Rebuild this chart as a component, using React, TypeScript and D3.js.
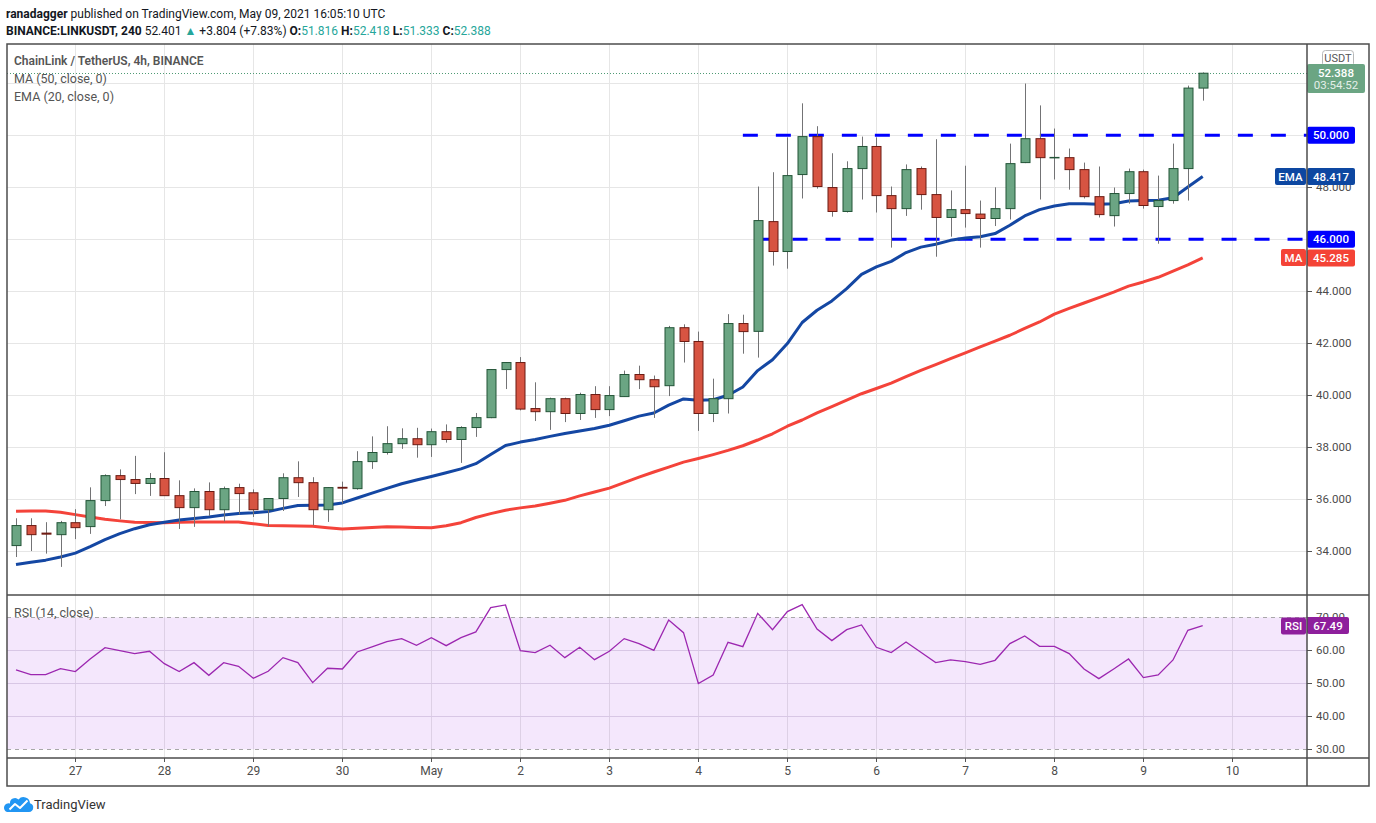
import * as d3 from "d3";

// LINKUSDT 4h, BINANCE — candles from Apr 26 08:00 UTC to May 9 16:00 UTC
const FIRST_BAR = Date.UTC(2021, 3, 26, 8);
const BAR_MS = 4 * 3600 * 1000;

const opens = [
  34.22, 34.99, 34.7, 34.64, 35.1, 34.95, 35.95, 36.91, 36.76, 36.61,
  36.8, 36.14, 35.68, 36.3, 35.6, 36.45, 36.25, 35.6, 36.03, 36.83,
  36.64, 35.6, 36.46, 36.41, 37.45, 37.8, 38.14, 38.33, 38.1, 38.6,
  38.3, 38.76, 39.14, 40.99, 41.26, 39.49, 39.37, 39.87, 39.3, 40.03,
  39.45, 39.95, 40.8, 40.6, 40.37, 42.6, 42.07, 39.3, 39.87, 42.76,
  42.46, 46.68, 45.53, 48.49, 49.95, 47.99, 47.07, 48.72, 49.57, 47.68,
  47.18, 48.72, 47.72, 46.84, 47.14, 46.97, 46.8, 47.18, 48.95, 49.87,
  49.14, 49.14, 48.68, 47.64, 46.91, 47.76, 48.6, 47.26, 47.49, 48.72,
  51.816,
];
const highs = [
  35.27, 35.27, 35.12, 35.17, 35.62, 36.46, 36.96, 37.15, 37.67, 37.01,
  37.81, 36.73, 36.42, 36.65, 36.49, 36.6, 36.38, 36.04, 37.0, 37.46,
  36.85, 36.46, 36.68, 37.85, 38.42, 38.81, 38.73, 38.75, 38.72, 38.88,
  38.81, 39.32, 41.0, 41.28, 41.47, 40.5, 39.91, 39.91, 40.1, 40.35,
  40.35, 40.95, 41.14, 40.76, 42.67, 42.73, 42.45, 40.64, 43.12, 43.1,
  48.03, 48.58, 49.92, 51.23, 50.35, 49.31, 49.0, 49.95, 49.92, 48.03,
  48.88, 48.8, 49.85, 47.88, 48.83, 47.49, 48.0, 49.68, 51.99, 51.15,
  50.26, 49.49, 48.95, 48.8, 47.99, 48.72, 48.68, 48.45, 49.68, 51.91,
  52.418,
];
const lows = [
  33.78, 34.01, 33.91, 33.4, 34.47, 34.67, 35.74, 35.23, 36.2, 36.13,
  36.15, 34.86, 34.94, 35.36, 35.15, 35.42, 35.32, 34.96, 35.55, 36.09,
  35.0, 35.13, 35.84, 36.37, 37.17, 37.72, 37.94, 37.6, 37.63, 38.18,
  37.4, 38.4, 39.12, 40.24, 39.42, 39.01, 38.67, 38.97, 39.05, 39.13,
  39.2, 39.95, 40.24, 39.13, 39.97, 41.26, 38.63, 38.97, 39.3, 41.6,
  41.45, 44.99, 44.87, 47.57, 47.95, 46.87, 47.03, 47.53, 47.03, 45.68,
  46.9, 47.14, 45.33, 46.1, 46.45, 45.68, 46.51, 46.76, 48.93, 47.53,
  48.3, 47.91, 47.57, 46.84, 46.49, 47.37, 47.18, 45.83, 47.37, 47.49,
  51.333,
];
const closes = [
  34.99, 34.64, 34.66, 35.1, 34.91, 35.95, 36.91, 36.76, 36.61, 36.8,
  36.14, 35.68, 36.3, 35.6, 36.41, 36.22, 35.6, 36.03, 36.83, 36.64,
  35.6, 36.45, 36.43, 37.45, 37.8, 38.14, 38.33, 38.1, 38.6, 38.3,
  38.76, 39.14, 40.99, 41.26, 39.47, 39.37, 39.87, 39.3, 40.03, 39.45,
  39.99, 40.8, 40.6, 40.33, 42.6, 42.07, 39.3, 39.87, 42.76, 42.45,
  46.72, 45.53, 48.45, 49.95, 48.03, 47.07, 48.72, 49.57, 47.68, 47.18,
  48.68, 47.72, 46.84, 47.14, 46.99, 46.8, 47.18, 48.91, 49.87, 49.14,
  49.15, 48.68, 47.64, 46.95, 47.76, 48.6, 47.3, 47.49, 48.72, 51.816,
  52.388,
];
const ema20 = [
  33.49, 33.58, 33.66, 33.78, 33.93, 34.18, 34.45, 34.68, 34.87, 35.02,
  35.12, 35.2, 35.26, 35.32, 35.4, 35.45, 35.48, 35.53, 35.65, 35.76,
  35.77, 35.78, 35.86, 36.05, 36.24, 36.42, 36.6, 36.74, 36.88, 37.02,
  37.17, 37.37, 37.72, 38.07, 38.2, 38.3, 38.42, 38.53, 38.63, 38.72,
  38.85, 39.02, 39.2, 39.32, 39.62, 39.86, 39.81, 39.83, 40.0, 40.32,
  40.95, 41.37, 41.99, 42.8, 43.27, 43.63, 44.1, 44.65, 44.94, 45.15,
  45.49, 45.7, 45.81, 45.96, 46.05, 46.1, 46.22, 46.54, 46.9, 47.14,
  47.28, 47.37, 47.37, 47.35, 47.37, 47.47, 47.49, 47.5, 47.6, 48.01,
  48.417,
];
const ma50 = [
  35.54, 35.55, 35.55, 35.5, 35.41, 35.32, 35.23, 35.17, 35.12, 35.11,
  35.1, 35.12, 35.13, 35.13, 35.13, 35.13, 35.06, 34.99, 34.98, 34.97,
  34.96, 34.91, 34.86, 34.89, 34.92, 34.94, 34.93, 34.92, 34.91, 34.98,
  35.1, 35.3, 35.45, 35.58, 35.67, 35.74, 35.85, 35.96, 36.13, 36.28,
  36.43, 36.64, 36.85, 37.05, 37.24, 37.43, 37.57, 37.72, 37.88, 38.06,
  38.28, 38.52, 38.81, 39.05, 39.32, 39.56, 39.81, 40.06, 40.26, 40.47,
  40.72, 40.96, 41.18, 41.41, 41.63, 41.86, 42.08, 42.31, 42.57, 42.82,
  43.12, 43.34, 43.55, 43.76, 43.97, 44.2, 44.36, 44.54, 44.78, 45.02,
  45.285,
];
const rsi14 = [
  54.04, 52.63, 52.63, 54.44, 53.54, 57.37, 60.81, 59.9, 58.99, 59.7,
  55.96, 53.54, 56.26, 52.42, 56.26, 55.15, 51.52, 53.64, 57.78, 56.26,
  50.2, 54.55, 54.34, 59.49, 61.01, 62.63, 63.54, 61.52, 63.84, 61.41,
  63.84, 65.56, 72.93, 73.74, 59.9, 59.29, 61.52, 57.78, 60.91, 57.17,
  59.7, 63.54, 62.02, 60.0, 69.19, 65.35, 49.9, 52.53, 62.42, 61.11,
  71.21, 66.26, 71.72, 73.84, 66.46, 62.93, 66.26, 67.68, 60.91, 59.29,
  62.53, 59.39, 56.26, 57.07, 56.57, 55.76, 56.97, 62.02, 64.34, 61.21,
  61.21, 58.99, 54.34, 51.41, 54.34, 57.37, 51.72, 52.53, 57.07, 66.06,
  67.49,
];

// 46, 50 and 52 sit under the price tags on the axis, so only these show
const priceTicks = [34, 36, 38, 40, 42, 44, 48];
const gridPrices = [34, 36, 38, 40, 42, 44, 46, 48, 50, 52];
const rsiTicks = [30, 40, 50, 60, 70];
const dayTickDates = [
  "2021-04-27", "2021-04-28", "2021-04-29", "2021-04-30", "2021-05-01", "2021-05-02", "2021-05-03",
  "2021-05-04", "2021-05-05", "2021-05-06", "2021-05-07", "2021-05-08", "2021-05-09", "2021-05-10",
];
const dayTickLabels = ["27", "28", "29", "30", "May", "2", "3", "4", "5", "6", "7", "8", "9", "10"];

// horizontal levels drawn by the author
const levelValues = [50, 46];
const levelStarts = ["2021-05-04T12:00:00Z", "2021-05-04T16:30:00Z"];

const FONT = "Roboto, 'Liberation Sans', Arial, sans-serif";
const UP = "#6ba583";
const UP_BORDER = "#225437";
const DOWN = "#d75442";
const DOWN_BORDER = "#6b1a12";
const TEAL = "#26a69a";
const TEXT = "#131722";
const AXIS_TEXT = "#4c4c4c";

const LEFT = 7;
const RIGHT = 1307;
const OUTER_RIGHT = 1369;
const TOP = 44;
const MAIN_BOTTOM = 595;
const RSI_BOTTOM = 758;
const AXIS_BOTTOM = 786;

function Tag({ x, y, w, fill, text }: { x: number; y: number; w: number; fill: string; text: string }) {
  return (
    <g>
      <rect x={x} y={y - 8.5} width={w} height={17} rx={2} fill={fill} />
      <text x={x + w / 2} y={y} dy="0.36em" textAnchor="middle" fill="#fff" fontSize={11.5} fontWeight={500}>
        {text}
      </text>
    </g>
  );
}

function Logo() {
  return (
    <g>
      <path
        d="M7,812 L29,812 A4.5,4.5 0 0 0 30,803.2 A6.5,6.5 0 0 0 18.5,799.5 A5,5 0 0 0 10,803.5 A4.3,4.3 0 0 0 7,812 Z"
        fill="#2196f3"
      />
      <polyline points="9.5,809.5 15,804 20,808 27.5,800.5" fill="none" stroke="#fff" strokeWidth={2} strokeLinejoin="round" />
      <text x={34} y={804} dy="0.36em" fontSize={13} fill="#333">TradingView</text>
    </g>
  );
}

export default function App() {
  const times = opens.map((_, i) => new Date(FIRST_BAR + i * BAR_MS));
  const x = d3.scaleUtc().domain([times[0], times[times.length - 1]]).range([16, 1202.7]);
  const y = d3.scaleLinear().domain([34, 50]).range([551.3, 135.3]);
  const yr = d3.scaleLinear().domain([30, 70]).range([749.3, 617.3]);

  const maLine = d3.line<number>().x((_, i) => x(times[i])).y((d) => y(d))(ma50) ?? "";
  const emaLine = d3.line<number>().x((_, i) => x(times[i])).y((d) => y(d))(ema20) ?? "";
  const rsiLine = d3.line<number>().x((_, i) => x(times[i])).y((d) => yr(d))(rsi14) ?? "";

  const dayX = dayTickDates.map((d) => Math.round(x(new Date(d + "T00:00:00Z"))) + 0.5);
  const last = closes.length - 1;
  const lastY = y(closes[last]);

  return (
    <svg
      width={1376}
      height={823}
      style={{ position: "absolute", left: 0, top: 0, background: "#fff" }}
      fontFamily={FONT}
    >
      <rect width={1376} height={823} fill="#fff" />

      {/* header */}
      <text x={6} y={17.5} fontSize={12} fill={TEXT}>
        <tspan fontWeight={700}>ranadagger</tspan>
        <tspan> published on TradingView.com, May 09, 2021 16:05:10 UTC</tspan>
      </text>
      <text x={6} y={34.5} fontSize={12} fill={TEXT}>
        <tspan fontWeight={700}>BINANCE:LINKUSDT, 240</tspan>
        <tspan> 52.401 </tspan>
        <tspan fill={TEAL}>▲</tspan>
        <tspan> +3.804 (+7.83%) </tspan>
        <tspan fontWeight={700}>O:</tspan><tspan fill={TEAL}>51.816</tspan>
        <tspan fontWeight={700}> H:</tspan><tspan fill={TEAL}>52.418</tspan>
        <tspan fontWeight={700}> L:</tspan><tspan fill={TEAL}>51.333</tspan>
        <tspan fontWeight={700}> C:</tspan><tspan fill={TEAL}>52.388</tspan>
      </text>

      {/* grid, main pane */}
      {gridPrices.map((p) => (
        <line key={`pg-${p}`} x1={LEFT} x2={RIGHT} y1={Math.round(y(p)) + 0.5} y2={Math.round(y(p)) + 0.5} stroke="#e6e6e6" />
      ))}
      {dayX.map((dx, i) => (
        <line key={`vg-${i}`} x1={dx} x2={dx} y1={TOP} y2={RSI_BOTTOM} stroke="#e6e6e6" />
      ))}

      {/* RSI pane */}
      {[40, 50, 60].map((r) => (
        <line key={`rg-${r}`} x1={LEFT} x2={RIGHT} y1={Math.round(yr(r)) + 0.5} y2={Math.round(yr(r)) + 0.5} stroke="#e0dbe6" />
      ))}
      <rect x={LEFT} y={yr(70)} width={RIGHT - LEFT} height={yr(30) - yr(70)} fill="rgba(156, 39, 230, 0.11)" />
      {[70, 30].map((r) => (
        <line key={`rb-${r}`} x1={LEFT} x2={RIGHT} y1={Math.round(yr(r)) + 0.5} y2={Math.round(yr(r)) + 0.5} stroke="#a8a8a8" strokeDasharray="4 4" />
      ))}
      <path d={rsiLine} fill="none" stroke="#9c27b0" strokeWidth={1.3} />
      <text x={14} y={612} dy="0.36em" fontSize={12.5} fill="#555">RSI (14, close)</text>

      {/* last price dotted line */}
      <line x1={LEFT} x2={RIGHT} y1={Math.round(lastY) + 0.5} y2={Math.round(lastY) + 0.5} stroke="#4f9a74" strokeDasharray="1 2" />

      {/* horizontal levels */}
      {levelValues.map((v, i) => (
        <line
          key={`lvl-${v}`}
          x1={x(new Date(levelStarts[i]))}
          x2={RIGHT}
          y1={y(v)}
          y2={y(v)}
          stroke="#0000ff"
          strokeWidth={3}
          strokeDasharray="15 18"
        />
      ))}

      {/* moving averages */}
      <path d={maLine} fill="none" stroke="#f4433a" strokeWidth={3} strokeLinejoin="round" />
      <path d={emaLine} fill="none" stroke="#1447a3" strokeWidth={3} strokeLinejoin="round" />

      {/* candles */}
      {times.map((t, i) => {
        const cx = Math.round(x(t));
        const up = closes[i] >= opens[i];
        const top = y(Math.max(opens[i], closes[i]));
        const bot = y(Math.min(opens[i], closes[i]));
        return (
          <g key={`c-${i}`}>
            <line x1={cx + 0.5} x2={cx + 0.5} y1={y(highs[i])} y2={y(lows[i])} stroke="#737375" />
            <rect
              x={cx - 4}
              y={top}
              width={9}
              height={Math.max(bot - top, 0.5)}
              fill={up ? UP : DOWN}
              stroke={up ? UP_BORDER : DOWN_BORDER}
              strokeWidth={1}
            />
          </g>
        );
      })}

      {/* pane titles */}
      <text x={14} y={61} dy="0.36em" fontSize={12} fontWeight={600} fill="#555">ChainLink / TetherUS, 4h, BINANCE</text>
      <text x={14} y={78} dy="0.36em" fontSize={12.5} fill="#555">MA (50, close, 0)</text>
      <text x={14} y={96} dy="0.36em" fontSize={12.5} fill="#555">EMA (20, close, 0)</text>

      {/* price axis */}
      {gridPrices.map((p) => (
        <line key={`ptk-${p}`} x1={RIGHT} x2={RIGHT + 5} y1={Math.round(y(p)) + 0.5} y2={Math.round(y(p)) + 0.5} stroke="#555" />
      ))}
      {priceTicks.map((p) => (
        <text key={`pt-${p}`} x={1316} y={y(p)} dy="0.36em" fontSize={11.5} fill={AXIS_TEXT}>{p.toFixed(3)}</text>
      ))}
      {rsiTicks.map((r) => (
        <g key={`rt-${r}`}>
          <line x1={RIGHT} x2={RIGHT + 5} y1={Math.round(yr(r)) + 0.5} y2={Math.round(yr(r)) + 0.5} stroke="#555" />
          <text x={1316} y={yr(r)} dy="0.36em" fontSize={11.5} fill={AXIS_TEXT}>{r.toFixed(2)}</text>
        </g>
      ))}

      {/* time axis */}
      {dayX.map((dx, i) => (
        <g key={`dt-${i}`}>
          <line x1={dx} x2={dx} y1={RSI_BOTTOM} y2={RSI_BOTTOM + 4} stroke="#555" />
          <text x={dx} y={771} dy="0.36em" textAnchor="middle" fontSize={12} fill={AXIS_TEXT}>{dayTickLabels[i]}</text>
        </g>
      ))}

      {/* price tags */}
      <rect x={1322.5} y={50.5} width={31} height={16} rx={3} fill="#fff" stroke="#b8b8b8" />
      <text x={1338} y={58.5} dy="0.36em" textAnchor="middle" fontSize={11} fill="#555">USDT</text>

      <rect x={RIGHT} y={64} width={58} height={29} rx={2} fill={UP} />
      <text x={1336} y={72.5} dy="0.36em" textAnchor="middle" fontSize={11.5} fontWeight={500} fill="#fff">{closes[last].toFixed(3)}</text>
      <text x={1336} y={85} dy="0.36em" textAnchor="middle" fontSize={11.5} fill="#e4efe8">03:54:52</text>

      {levelValues.map((v) => (
        <Tag key={`lt-${v}`} x={RIGHT} y={y(v)} w={48} fill="#0000ff" text={v.toFixed(3)} />
      ))}
      <Tag x={1275} y={176.5} w={31} fill="#0d47a1" text="EMA" />
      <Tag x={RIGHT} y={y(ema20[last])} w={48} fill="#0d47a1" text={ema20[last].toFixed(3)} />
      <Tag x={1281} y={257.6} w={25} fill="#f44336" text="MA" />
      <Tag x={RIGHT} y={y(ma50[last])} w={48} fill="#f44336" text={ma50[last].toFixed(3)} />
      <Tag x={1281} y={626} w={25} fill="#8e1f9c" text="RSI" />
      <Tag x={RIGHT} y={yr(rsi14[last])} w={42} fill="#8e1f9c" text={rsi14[last].toFixed(2)} />

      {/* frame */}
      <rect x={LEFT} y={TOP} width={OUTER_RIGHT - LEFT} height={AXIS_BOTTOM - TOP} fill="none" stroke="#4d4d4d" strokeWidth={1.5} />
      <line x1={RIGHT} x2={RIGHT} y1={TOP} y2={AXIS_BOTTOM} stroke="#4d4d4d" strokeWidth={1.5} />
      <line x1={LEFT} x2={OUTER_RIGHT} y1={MAIN_BOTTOM} y2={MAIN_BOTTOM} stroke="#4d4d4d" strokeWidth={1.5} />
      <line x1={LEFT} x2={OUTER_RIGHT} y1={RSI_BOTTOM} y2={RSI_BOTTOM} stroke="#4d4d4d" strokeWidth={1.5} />

      <Logo />
    </svg>
  );
}
